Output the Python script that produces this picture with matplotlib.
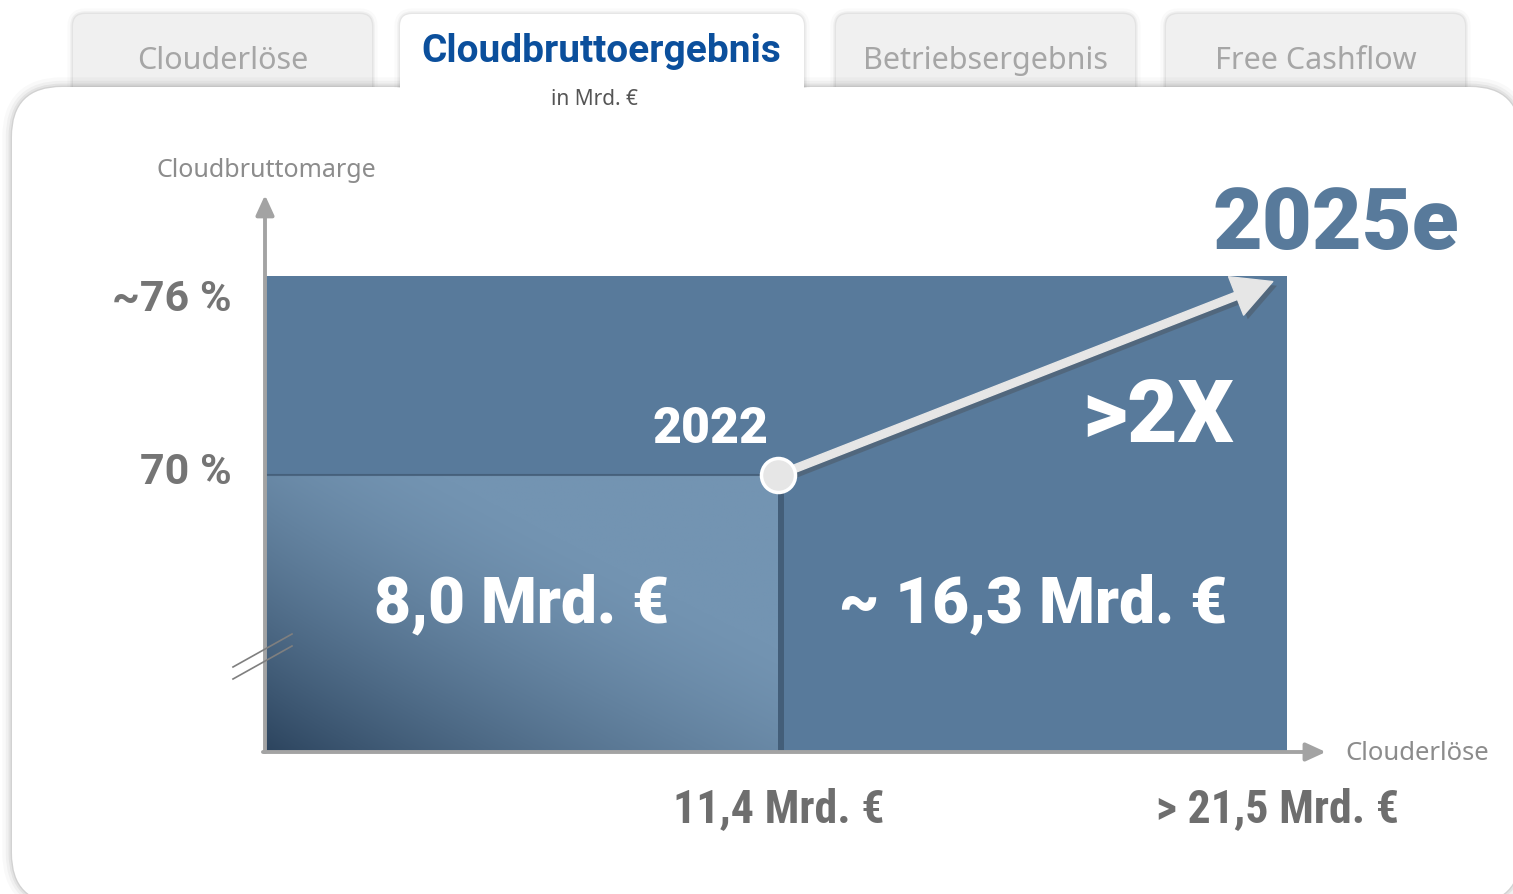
import numpy as np
import matplotlib.pyplot as plt
from matplotlib.patches import Rectangle, FancyBboxPatch
from matplotlib import patheffects as pe
from matplotlib.colors import LinearSegmentedColormap

# --- data -------------------------------------------------------------
years = ["2022", "2025e"]
revenue = [11.4, 21.5]            # Clouderlöse, Mrd. €
margin = [70, 76]                 # Cloudbruttomarge, %
profit_labels = ["8,0 Mrd. €", "~ 16,3 Mrd. €"]
revenue_labels = ["11,4 Mrd. €", "> 21,5 Mrd. €"]
margin_labels = ["70 %", "~76 %"]
growth_label = ">2X"
tabs = ["Clouderlöse", "Cloudbruttoergebnis", "Betriebsergebnis", "Free Cashflow"]
active_tab = 1

# --- style -------------------------------------------------------------
BLUE = "#587a9b"
LIGHT = "#e6e6e6"
AXIS = "#a3a3a3"
HEAVY = ["Roboto", "DejaVu Sans"]
BOLDNARROW = ["Roboto Condensed", "Roboto", "DejaVu Sans"]
PLAIN = ["Noto Sans", "DejaVu Sans"]

W, H = 1513, 895
fig = plt.figure(figsize=(W / 100, H / 100), dpi=100)

# background layer in pixel coordinates (tabs + card)
bg = fig.add_axes([0, 0, 1, 1])
bg.set_xlim(0, W)
bg.set_ylim(H, 0)
bg.axis("off")

def halo(levels=((14, 0.025), (9, 0.035), (5, 0.05), (2, 0.07))):
    return [pe.Stroke(linewidth=lw, foreground="black", alpha=a) for lw, a in levels] + [pe.Normal()]

tab_left = [73, 400, 836, 1166]
tab_width = [299, 404, 299, 299]
for i, (name, x0, w) in enumerate(zip(tabs, tab_left, tab_width)):
    active = i == active_tab
    if active:
        bg.add_patch(FancyBboxPatch((x0, 15), w, 90, boxstyle="round,pad=0,rounding_size=12",
                                    fc="white", ec="none", zorder=4,
                                    path_effects=halo(((8, 0.02), (4, 0.035), (2, 0.045)))))
        # merge the active tab into the card
        bg.add_patch(Rectangle((x0 - 12, 88.5), w + 24, 40, fc="white", ec="none", zorder=4.5))
        bg.text(x0 + w / 2 - 1, 51, name, ha="center", va="center", fontsize=28,
                fontweight="bold", color="#0b4f9c", family=HEAVY, zorder=5)
        bg.text(x0 + w / 2 - 8, 99, "in Mrd. €", ha="center", va="center", fontsize=15,
                color="#555555", family=PLAIN, zorder=5)
    else:
        bg.add_patch(FancyBboxPatch((x0, 15), w, 140, boxstyle="round,pad=0,rounding_size=12",
                                    fc="#f0f0f0", ec="none", zorder=1,
                                    path_effects=halo(((8, 0.02), (4, 0.04), (2, 0.05)))))
        bg.text(x0 + w / 2, 61, name, ha="center", va="center", fontsize=22,
                color="#a6a6a6", family=PLAIN, zorder=2)

card = FancyBboxPatch((12, 88), 1508, 816, boxstyle="round,pad=0,rounding_size=50",
                      fc="white", ec="none", zorder=3, path_effects=halo())
bg.add_patch(card)

bg.text(157, 170, "Cloudbruttomarge", ha="left", va="center", fontsize=18,
        color="#8c8c8c", family=PLAIN, zorder=5)
bg.text(1345, 754, "Clouderlöse", ha="left", va="center", fontsize=18.5,
        color="#8c8c8c", family=PLAIN, zorder=5)

# --- chart -------------------------------------------------------------
y_floor = 61.65   # broken axis: the margin axis does not start at zero
p = 1.085         # schematic revenue axis
ax = fig.add_axes([265 / W, (H - 753) / H, 1022 / W, 476 / H], zorder=5)
ax.set_facecolor("none")
ax.set_xscale("function", functions=(lambda x: np.sign(x) * np.abs(x) ** p,
                                     lambda x: np.sign(x) * np.abs(x) ** (1 / p)))

ax.add_patch(Rectangle((0, y_floor), revenue[1], margin[1] - y_floor, fc=BLUE, ec="none", zorder=1))
growth_block = Rectangle((revenue[0], y_floor), revenue[1] - revenue[0], margin[0] - y_floor,
                         fc=BLUE, ec="none", zorder=1)
ax.add_patch(growth_block)

base_block = Rectangle((0, y_floor), revenue[0], margin[0] - y_floor, fc="#6585a5", ec="none",
                       zorder=2, path_effects=[pe.SimplePatchShadow(offset=(4, -3), alpha=0.35,
                                                                    shadow_rgbFace="#1d2c3c"),
                                               pe.Normal()])
ax.add_patch(base_block)

u = np.linspace(0, 1, 300)[None, :]
v = np.linspace(0, 1, 300)[:, None]
shade = np.clip(1 - (u + v) / 1.4, 0, 1) ** 1.5
cmap = LinearSegmentedColormap.from_list("fade", ["#7394b2", "#2c445e"])
img = ax.imshow(shade, cmap=cmap, vmin=0, vmax=1, origin="lower", aspect="auto",
                extent=(0, revenue[0], y_floor, margin[0]), interpolation="bilinear", zorder=3)
img.set_clip_path(base_block)

# shadow of the upper band onto the 2022 block
ax.plot([0, revenue[0]], [margin[0], margin[0]], color="#33475c", lw=1.5, alpha=0.5, zorder=4,
        solid_capstyle="butt")

ax.set_xlim(0, revenue[1])
ax.set_ylim(y_floor, margin[1])
ax.axis("off")

# axes with arrow heads
axis_arrow = dict(arrowstyle="-|>,head_length=1.2,head_width=0.55", color=AXIS, lw=2.8,
                  shrinkA=0, shrinkB=0, mutation_scale=10)
ax.annotate("", xy=(0, 1.17), xytext=(0, 0), xycoords="axes fraction",
            arrowprops=axis_arrow, annotation_clip=False, zorder=6)
ax.annotate("", xy=(1.038, 0), xytext=(-0.002, 0), xycoords="axes fraction",
            arrowprops=axis_arrow, annotation_clip=False, zorder=6)

# growth arrow 2022 -> 2025e
ax.annotate("", xy=(revenue[1], margin[1]), xytext=(revenue[0], margin[0]),
            arrowprops=dict(arrowstyle="simple,head_length=1.05,head_width=1.1,tail_width=0.2",
                            mutation_scale=27, color=LIGHT, shrinkA=0, shrinkB=11,
                            path_effects=[pe.SimplePatchShadow(offset=(3, -3), alpha=0.35),
                                          pe.Normal()]),
            annotation_clip=False, zorder=7)
ax.scatter([revenue[0]], [margin[0]], s=600, color=LIGHT, edgecolor="white", linewidth=2.5,
           zorder=8, clip_on=False)

# labels
ax.annotate(years[0], xy=(revenue[0], margin[0]), xytext=(-49, 24), textcoords="offset points",
            ha="center", va="baseline", fontsize=36, fontweight="black", color="white",
            family=HEAVY, zorder=9)
ax.annotate(years[1], xy=(revenue[1], margin[1]), xytext=(35, 20), textcoords="offset points",
            ha="center", va="baseline", fontsize=62, fontweight="black", color=BLUE,
            family=HEAVY, annotation_clip=False, zorder=9)
ax.annotate(growth_label, xy=(revenue[1], margin[1]), xytext=(-93, -119), textcoords="offset points",
            ha="center", va="baseline", fontsize=63, fontweight="black", color="white",
            family=HEAVY, zorder=9)

for label, block in zip(profit_labels, [base_block, growth_block]):
    ax.annotate(label, xy=(0.5, 0.5), xycoords=block, xytext=(0, -6), textcoords="offset points",
                ha="center", va="baseline", fontsize=46, fontweight="black", color="white",
                family=HEAVY, zorder=9)

for label, m, dy in zip(margin_labels, margin, [-6, -24.5]):
    ax.annotate(label, xy=(0, m), xycoords=("axes fraction", "data"), xytext=(-24, dy),
                textcoords="offset points", ha="right", va="baseline", fontsize=31,
                fontweight="bold", color="#757575", family=HEAVY, annotation_clip=False)

for label, r, dx in zip(revenue_labels, revenue, [0, -6.5]):
    ax.annotate(label, xy=(r, 0), xycoords=("data", "axes fraction"), xytext=(dx, -50),
                textcoords="offset points", ha="center", va="baseline", fontsize=33,
                fontweight="bold", color="#6e6e6e", family=BOLDNARROW, annotation_clip=False)

# axis break marks
fg = fig.add_axes([0, 0, 1, 1], zorder=10)
fg.set_xlim(0, W)
fg.set_ylim(H, 0)
fg.axis("off")
for dy in (0, 12):
    fg.plot([233, 292], [668 + dy, 635 + dy], color="#7f7f7f", lw=1.2)

fig.savefig("out.png", dpi=100)
